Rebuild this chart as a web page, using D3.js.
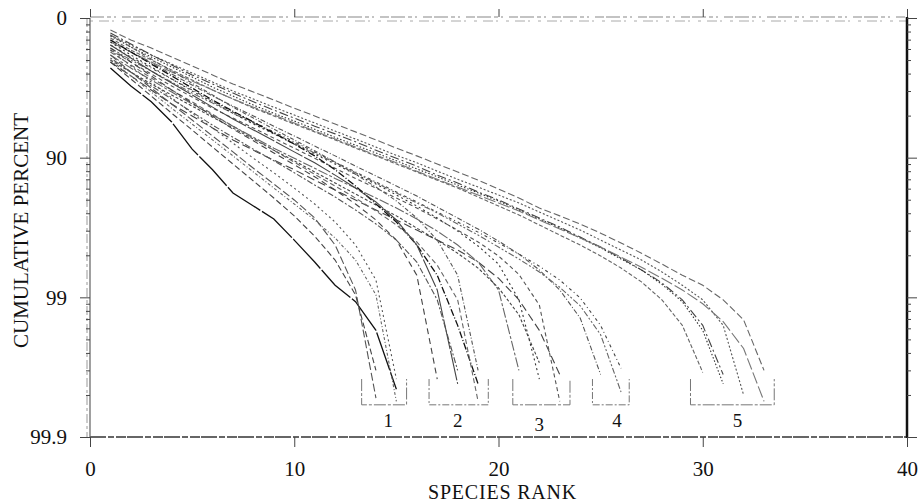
<!DOCTYPE html>
<html><head><meta charset="utf-8">
<script src="https://cdn.jsdelivr.net/npm/d3@7"></script>
<style>
html,body{margin:0;padding:0;background:#fff;}
svg{display:block;font-family:"Liberation Serif","Times New Roman",serif;}
svg text{font-family:"Liberation Serif","Times New Roman",serif;}
</style></head><body>
<svg id="chart" width="923" height="502"></svg>
<script>
// ---- data (cumulative percent at species rank 1..N) ----
const xTickValues = [0, 10, 20, 30, 40];
const yTickCum = [0, 90, 99, 99.9];
const yTickLabels = ["0", "90", "99", "99.9"];
const xTitle = "SPECIES RANK";
const yTitle = "CUMULATIVE PERCENT";
const bracketLabels = ["1", "2", "3", "4", "5"];
const bracketFrom = [13.3, 16.6, 20.7, 24.6, 29.4];
const bracketTo = [15.5, 19.5, 23.5, 26.4, 33.5];
const bracketLabelRank = [14.6, 18.0, 22.0, 25.8, 31.7];
const bracketTopCum = 99.74, bracketBottomCum = 99.83;

// group 5
const s01 = [18.0,30.4,39.0,47.4,54.7,60.9,66.3,70.5,74.1,77.4,80.1,82.6,84.7,86.6,88.3,89.7,91.0,92.1,93.1,94.04,94.86,95.64,96.17,96.65,97.12,97.55,97.93,98.27,98.56,98.78,99.04,99.31,99.70];
const s02 = [24.5,35.9,45.6,53.2,59.6,65.2,70.0,73.7,77.0,79.8,82.3,84.5,86.4,88.1,89.6,90.8,92.0,93.0,93.84,94.60,95.26,95.92,96.48,96.97,97.43,97.82,98.15,98.48,98.78,99.04,99.37,99.80];
const s03 = [22.0,34.8,45.6,53.9,60.9,66.3,71.0,74.9,78.1,80.8,83.2,85.2,87.0,88.7,90.1,91.3,92.5,93.41,94.32,95.02,95.71,96.30,96.81,97.30,97.71,98.09,98.43,98.73,99.04,99.37,99.72];
const s04 = [28.1,41.0,50.0,57.6,64.0,69.5,73.7,77.4,80.1,82.6,84.7,86.6,88.3,89.7,91.0,92.1,93.1,93.94,94.77,95.49,96.11,96.70,97.21,97.63,98.02,98.38,98.71,99.04,99.37,99.71];
const s05 = [25.7,38.0,47.4,55.4,62.2,68.0,72.4,76.2,79.2,81.7,84.0,86.0,87.7,89.2,90.5,91.7,92.7,93.63,94.41,95.10,95.78,96.36,96.86,97.34,97.74,98.12,98.43,98.76,99.07,99.42,99.76];
const s06 = [32.7,42.9,51.6,59.0,64.6,69.5,73.7,77.0,79.8,82.3,84.5,86.4,88.1,89.6,90.8,92.0,93.0,93.84,94.60,95.26,95.85,96.42,96.92,97.34,97.71,98.06,98.36,98.63,98.87,99.10,99.33,99.57,99.82];
// group 4
const s07 = [35.9,47.4,56.2,63.4,69.5,74.5,78.8,82.0,84.7,87.0,89.0,90.7,92.1,93.30,94.32,95.18,95.92,96.54,97.07,97.55,97.96,98.33,98.67,99.01,99.37,99.69];
const s08 = [30.4,42.9,52.4,60.3,66.9,72.4,76.6,80.1,83.2,85.7,87.9,89.7,91.3,92.6,93.73,94.69,95.57,96.30,96.92,97.47,97.96,98.43,98.87,99.29,99.72];
const s09 = [39.0,50.0,58.3,65.2,71.0,75.4,79.2,82.3,85.0,87.3,89.2,90.8,92.2,93.41,94.41,95.26,95.98,96.65,97.21,97.71,98.12,98.48,98.82,99.13,99.46,99.79];
// group 3
const s10 = [51.6,61.5,69.5,75.8,80.1,83.7,86.6,88.7,90.4,91.8,93.1,94.13,95.02,95.78,96.42,96.97,97.43,97.82,98.21,98.63,99.04,99.42,99.72];
const s11 = [32.7,45.6,55.4,63.4,70.0,74.9,79.2,82.6,85.2,87.5,89.4,91.0,92.4,93.52,94.60,95.49,96.30,97.02,97.67,98.27,99.04,99.74];
const s12 = [45.6,56.2,64.0,70.5,75.8,79.8,83.2,86.0,88.3,90.1,91.6,92.9,93.94,94.86,95.64,96.36,97.02,97.63,98.21,98.87,99.70];
const s13 = [41.0,51.6,60.3,67.4,72.8,77.4,80.8,83.7,86.2,88.3,90.1,91.6,92.9,93.94,94.86,95.64,96.36,96.97,97.51,98.02,98.54,99.12,99.82];
const s14 = [50.0,59.0,66.3,71.9,76.6,80.5,83.7,86.4,88.7,90.5,92.1,93.41,94.51,95.42,96.17,96.87,97.43,97.93,98.38,98.83,99.25,99.66];
// group 2
const s15 = [30.4,42.9,53.2,61.5,68.5,74.1,78.5,82.0,85.0,87.5,89.7,91.8,93.73,95.34,96.54,97.63,98.56,99.37,99.76];
const s16 = [35.9,48.3,58.3,65.8,71.9,77.0,81.1,84.2,86.8,89.0,90.8,92.5,93.94,95.18,96.42,97.63,98.87,99.76];
const s17 = [42.9,53.9,62.8,69.5,74.9,79.5,83.2,86.2,88.7,90.7,92.4,93.73,94.86,95.85,96.70,97.51,98.30,99.04,99.82];
const s18 = [48.3,59.0,67.4,73.7,78.8,82.9,86.0,88.5,90.5,92.2,93.63,94.77,95.78,96.65,97.43,98.21,99.04,99.70];
const s19 = [39.0,51.6,61.5,69.5,75.4,80.1,84.0,86.8,89.2,91.1,92.7,94.13,95.34,96.42,97.43,98.56,99.74];
const s20 = [24.5,38.0,49.2,58.3,65.8,71.9,77.0,80.8,84.0,86.6,88.8,90.7,92.4,93.84,95.10,96.30,97.43,98.56,99.70];
// group 1
const s21 = [56.2,67.4,74.9,82.0,88.5,91.8,94.41,95.49,96.36,97.43,98.21,98.78,99.07,99.42,99.78];
const s22 = [45.6,59.0,68.5,75.8,81.4,85.7,89.0,91.6,93.52,95.02,96.30,97.63,98.87,99.81];
const s23 = [50.0,61.5,70.5,77.4,82.6,86.6,89.7,92.1,93.94,95.34,96.42,97.34,98.15,98.96,99.82];
const s24 = [51.6,63.4,72.4,79.2,84.2,88.1,91.0,93.19,94.86,96.17,97.26,98.15,98.96,99.70];
const s25 = [41.0,54.7,65.2,73.2,79.2,83.7,87.3,90.1,92.2,93.94,95.34,96.54,97.63,98.67,99.74];

const seriesList = [s01,s02,s03,s04,s05,s06,s07,s08,s09,s10,s11,s12,s13,s14,s15,s16,s17,s18,s19,s20,s21,s22,s23,s24,s25];

// ---- styles ----
const dashStyles = ["7,3","2,2","9,3,2,3","4,2","1.5,2","12,3","3,3,1,3","5,2,1,2","6,2,2,2,2,2","8,4",
                    "2,3","10,2,3,2","4,3","3,2","7,2,1,2","30,2","5,3","2,2,6,2","6,4","4,2,1,2",
                    "40,2","8,3","3,2,1,2","6,3","2,3"];
const strokeColors = ["#666","#555","#444","#666","#333","#777","#444","#555","#666","#444",
                      "#333","#666","#555","#444","#111","#444","#666","#555","#444","#555",
                      "#111","#555","#666","#444","#555"];

const svg = d3.select("#chart");
const x = d3.scaleLinear().domain([0, 40]).range([90, 907]);
const rem = d3.scaleLog().domain([100, 0.1]).range([18, 437]); // 100 - cumulative percent
const y = c => rem(100 - c);
const serif = "'Liberation Serif', 'Times New Roman', serif";

// frame lines (scanned look)
const g = svg.append("g");
g.append("line").attr("x1",x(0)).attr("x2",x(40)).attr("y1",17).attr("y2",17)
  .attr("stroke","#888").attr("stroke-width",1.2).attr("stroke-dasharray","14,3,4,3,2,6,9,2");
g.append("line").attr("x1",x(0)).attr("x2",x(40)).attr("y1",21).attr("y2",21)
  .attr("stroke","#aaa").attr("stroke-width",1).attr("stroke-dasharray","3,6,10,3,2,8");
g.append("line").attr("x1",87).attr("x2",87).attr("y1",18).attr("y2",437)
  .attr("stroke","#999").attr("stroke-width",1).attr("stroke-dasharray","9,3,3,3");
g.append("line").attr("x1",x(0)).attr("x2",x(0)).attr("y1",18).attr("y2",437)
  .attr("stroke","#777").attr("stroke-width",1.4);
g.append("line").attr("x1",x(0)).attr("x2",x(40)).attr("y1",437).attr("y2",437)
  .attr("stroke","#666").attr("stroke-width",2).attr("stroke-dasharray","16,2,6,2,10,1");
g.append("line").attr("x1",x(40)).attr("x2",x(40)).attr("y1",17).attr("y2",438)
  .attr("stroke","#111").attr("stroke-width",2.5);

// axes
const fontSize = 21;
svg.append("g").attr("transform","translate(0,437)")
  .call(d3.axisBottom(x).tickValues(xTickValues).tickFormat(d3.format("d")).tickSize(10).tickPadding(14));
svg.append("g").attr("transform","translate(0,17)")
  .call(d3.axisTop(x).tickValues(xTickValues).tickFormat("").tickSize(8));
const majorRem = yTickCum.map(c => 100 - c);
svg.append("g").attr("transform","translate(90,0)")
  .call(d3.axisLeft(rem).tickValues(majorRem).tickFormat((d,i) => yTickLabels[i]).tickSize(10).tickPadding(13));
const minorRem = rem.ticks().filter(v => !majorRem.some(m => Math.abs(m - v) < 1e-9));
svg.append("g").attr("transform","translate(90,0)")
  .call(d3.axisLeft(rem).tickValues(minorRem).tickFormat("").tickSize(4));
svg.append("g").attr("transform","translate(907,0)")
  .call(d3.axisRight(rem).tickValues(majorRem).tickFormat("").tickSize(10));
svg.append("g").attr("transform","translate(907,0)")
  .call(d3.axisRight(rem).tickValues(minorRem).tickFormat("").tickSize(4));

svg.selectAll(".domain").remove();
svg.selectAll("g").attr("font-family", serif);
svg.selectAll(".tick line").attr("stroke","#444").attr("stroke-width",1);
svg.selectAll(".tick text").attr("font-family", serif).attr("font-size",fontSize).attr("fill","#111");

// titles
svg.append("text").attr("x", (x(0)+x(40))/2 + 4).attr("y", 499).attr("text-anchor","middle")
  .attr("font-family", serif).attr("font-size",20).attr("letter-spacing","0.8px").attr("fill","#111").text(xTitle);
svg.append("text").attr("transform",`translate(28,${(rem(100)+rem(0.1))/2 + 3}) rotate(-90)`)
  .attr("font-family", serif).attr("text-anchor","middle").attr("font-size",21).attr("fill","#111").text(yTitle);

// curves
const line = d3.line().x((d,i) => x(i + 1)).y(d => y(d));
svg.append("g").selectAll("path").data(seriesList).join("path")
  .attr("d", d => line(d))
  .attr("fill","none")
  .attr("stroke",(d,i) => strokeColors[i])
  .attr("stroke-width",(d,i) => (i === 14 || i === 20) ? 1.3 : 1.1)
  .attr("stroke-dasharray",(d,i) => dashStyles[i]);

// brackets
const br = svg.append("g");
bracketLabels.forEach((lab, i) => {
  const x0 = x(bracketFrom[i]), x1 = x(bracketTo[i]);
  const yt = y(bracketTopCum), yb = y(bracketBottomCum);
  br.append("path").attr("d", `M${x0},${yt}V${yb}H${x1}V${yt}`)
    .attr("fill","none").attr("stroke","#777").attr("stroke-width",1)
    .attr("stroke-dasharray", i % 2 ? "7,2,2,2" : "12,2,3,2");
  br.append("text").attr("x", x(bracketLabelRank[i])).attr("y", 437 - 10 + (i === 2 ? 4 : 0))
    .attr("font-family", serif).attr("text-anchor","middle").attr("font-size",19).attr("fill","#111").text(lab);
});
</script>
</body></html>
